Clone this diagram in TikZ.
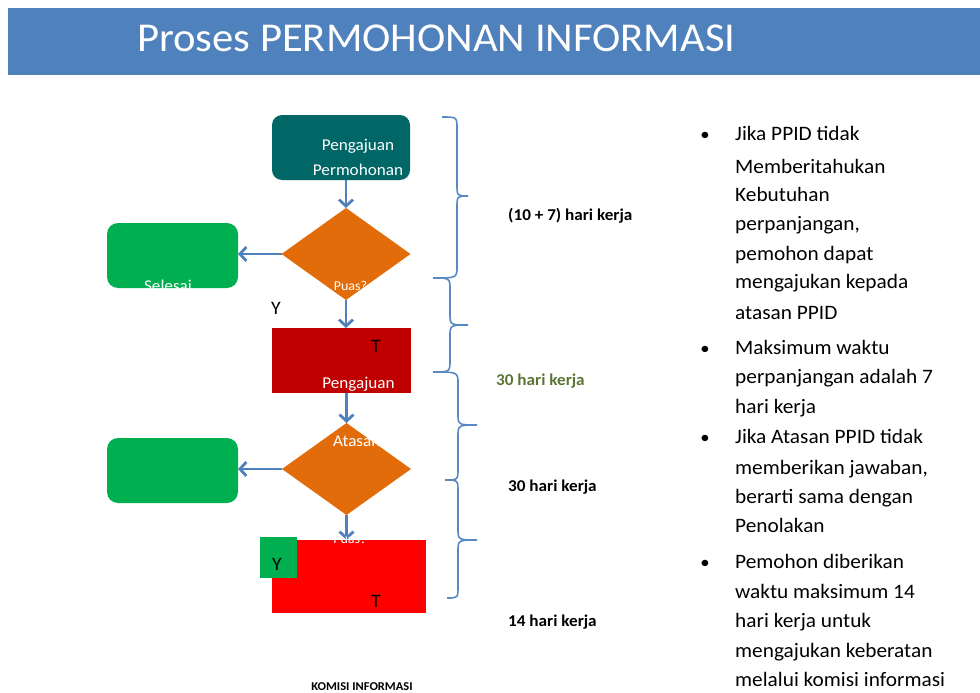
\documentclass[tikz,border=0pt]{standalone}
\usepackage{fontspec}
\setmainfont{Carlito}[FakeStretch=1.04]
\usetikzlibrary{shapes.geometric,arrows.meta}
\definecolor{hdr}{HTML}{4F81BD}
\definecolor{teal}{HTML}{006666}
\definecolor{orng}{HTML}{E36C0A}
\definecolor{grn}{HTML}{00B050}
\definecolor{dred}{HTML}{C00000}
\definecolor{bred}{HTML}{FF0000}
\definecolor{arrc}{HTML}{4F81BD}
\definecolor{brc}{HTML}{5A88C2}
\definecolor{olive}{HTML}{5A7535}
\newcommand{\mybrace}[8]{%
  \draw[bracestyle] (#1,#2) .. controls (#3,#2) .. (#3,#2+#8) -- (#3,#5-#8)
    .. controls (#3,#5) .. (#4,#5) .. controls (#3,#5) .. (#3,#5+#8)
    -- (#3,#7-#8) .. controls (#3,#7) .. (#6,#7);}
\begin{document}
\begin{tikzpicture}[x=1pt,y=-1pt,
  box/.style={inner sep=0pt, outer sep=0pt},
  rbox/.style={box, rounded corners=11pt},
  dia/.style={diamond, fill=orng, inner sep=0pt, outer sep=0pt, minimum width=129pt, minimum height=92pt},
  arr/.style={draw=arrc, line width=2.8pt, -{Straight Barb[length=6.5pt,width=14pt]}},
  bracestyle/.style={draw=brc, line width=1.6pt},
  wtxt/.style={text=white, font=\fontsize{16.5}{18}\selectfont, anchor=base, inner sep=0pt},
  ktxt/.style={text=black, font=\fontsize{19}{21}\selectfont, anchor=base, inner sep=0pt},
  lbl/.style={font=\fontsize{16.5}{18}\selectfont\bfseries, anchor=base west, inner sep=0pt},
  btxt/.style={font=\fontsize{20.5}{22}\selectfont, anchor=base west, inner sep=0pt},
  bul/.style={font=\fontsize{18}{20}\selectfont, anchor=base, inner sep=0pt}
]
\useasboundingbox (0,0) rectangle (980,693);
% header
\node[box, fill=hdr, minimum width=972pt, minimum height=67pt, anchor=north west] (hdr) at (8,8) {};
\node[text=white, font=\fontsize{41}{45}\selectfont, anchor=base west, inner sep=0pt] (title) at (137,52) {Proses PERMOHONAN INFORMASI};

% flowchart shapes
\node[rbox, fill=teal, minimum width=138pt, minimum height=65pt, rounded corners=10pt] (top) at (341,147.5) {};
\node[dia] (d1) at (346,254) {};
\node[rbox, fill=grn, minimum width=131pt, minimum height=65pt] (g1) at (172.5,255.5) {};
\node[box, fill=dred, minimum width=139pt, minimum height=65pt] (r1) at (341.5,360.5) {};
\node[dia] (d2) at (346.5,469) {};
\node[rbox, fill=grn, minimum width=131pt, minimum height=65pt] (g2) at (172.5,470.5) {};
\node[box, fill=bred, minimum width=154pt, minimum height=73pt] (r2) at (349,576.5) {};

% connectors
\draw[arr] (d1.north |- top.south) -- (d1.north);
\draw[arr] (d1.west) -- (d1.west -| g1.east);
\draw[arr] (d1.south) -- (d1.south |- r1.north);
\draw[arr] (d2.north |- r1.south) -- (d2.north);
\draw[arr] (d2.west) -- (d2.west -| g2.east);
\draw[arr] (d2.south) -- (d2.south |- r2.north);

% texts in flowchart
\node[wtxt] (t1) at (358,150) {Pengajuan};
\node[wtxt] (t2) at (358,175) {Permohonan};
\node[wtxt] (sel) at (168,291) {Selesai};
\node[wtxt, font=\fontsize{13.5}{15}\selectfont] (p1) at (350.5,290) {Puas?};
\node[ktxt] (y1) at (276,314) {Y};
\node[ktxt] (tt1) at (376,352) {T};
\node[wtxt] (t3) at (358.5,388) {Pengajuan};
\node[wtxt, anchor=base west] (at) at (333,446) {Atasan};
\node[wtxt, font=\fontsize{13.5}{15}\selectfont] (p2) at (350,543) {Puas?};
\node[box, fill=grn, minimum width=37pt, minimum height=41pt] (gs) at (278.5,557.5) {};
\node[ktxt] (y2) at (277,570) {Y};
\node[ktxt] (tt2) at (376,607) {T};

% braces
\mybrace{442}{117}{457}{468}{196}{433}{278}{12}
\mybrace{433}{278}{450}{468}{325}{433}{372}{12}
\mybrace{433}{372}{458}{477}{425}{445}{480}{12}
\mybrace{445}{480}{458}{477}{540}{447}{598}{12}

% duration labels
\node[lbl] (l1) at (508,220) {(10 + 7) hari kerja};
\node[lbl, text=olive] (l2) at (496,385) {30 hari kerja};
\node[lbl] (l3) at (508,491) {30 hari kerja};
\node[lbl] (l4) at (508,626) {14 hari kerja};
\node[font=\fontsize{12}{14}\selectfont\bfseries, anchor=base, inner sep=0pt] (ki) at (362,690) {KOMISI INFORMASI};

% bullet texts
\node[bul] (b1) at (705,140) {•};
\node[btxt] (r01) at (735,140) {Jika PPID tidak};
\node[btxt] (r02) at (735,173) {Memberitahukan};
\node[btxt] (r03) at (735,201) {Kebutuhan};
\node[btxt] (r04) at (735,230) {perpanjangan,};
\node[btxt] (r05) at (735,260) {pemohon dapat};
\node[btxt] (r06) at (735,288) {mengajukan kepada};
\node[btxt] (r07) at (735,319) {atasan PPID};
\node[bul] (b2) at (705,354) {•};
\node[btxt] (r08) at (735,354) {Maksimum waktu};
\node[btxt] (r09) at (735,383) {perpanjangan adalah 7};
\node[btxt] (r10) at (735,413) {hari kerja};
\node[bul] (b3) at (705,443) {•};
\node[btxt] (r11) at (735,443) {Jika Atasan PPID tidak};
\node[btxt] (r12) at (735,474) {memberikan jawaban,};
\node[btxt] (r13) at (735,503) {berarti sama dengan};
\node[btxt] (r14) at (735,532) {Penolakan};
\node[bul] (b4) at (705,568) {•};
\node[btxt] (r15) at (735,568) {Pemohon diberikan};
\node[btxt] (r16) at (735,598) {waktu maksimum 14};
\node[btxt] (r17) at (735,627) {hari kerja untuk};
\node[btxt] (r18) at (735,657) {mengajukan keberatan};
\node[btxt] (r19) at (735,686) {melalui komisi informasi};
\end{tikzpicture}
\end{document}
